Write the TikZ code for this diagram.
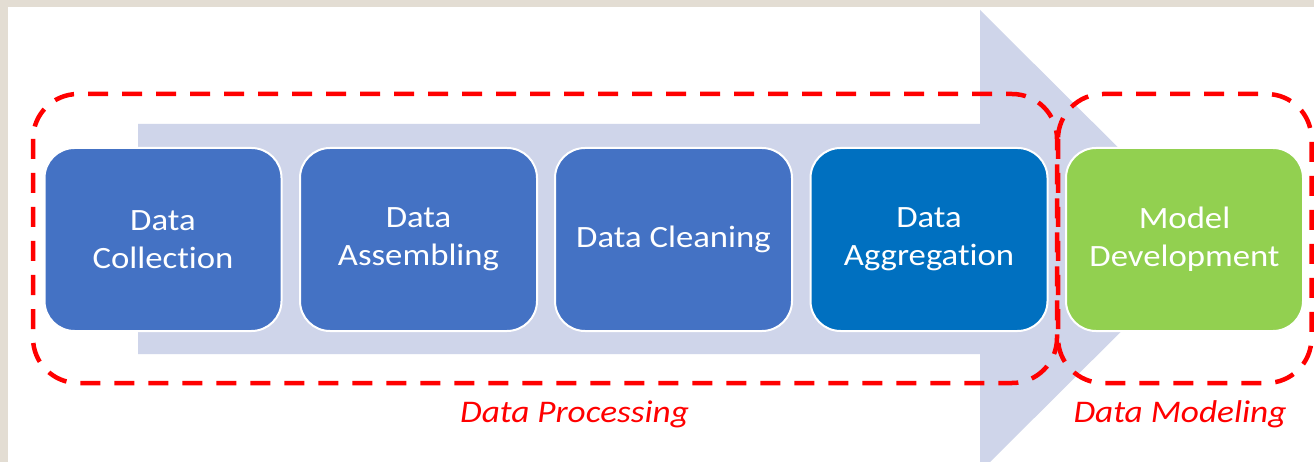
\documentclass[tikz,border=0pt]{standalone}
\usepackage{fontspec}
\setmainfont{Carlito}[FakeStretch=1.12, Ligatures={NoCommon}]
\definecolor{paper}{HTML}{E3DDD3}
\definecolor{flow}{HTML}{CFD5EA}
\definecolor{stepblue}{HTML}{4472C4}
\definecolor{stepdeep}{HTML}{0070C0}
\definecolor{stepgreen}{HTML}{92D050}
\definecolor{groupred}{HTML}{FF0000}
\tikzset{
  stagebox/.style={draw=white, line width=2pt, rounded corners=30pt,
    minimum width=237pt, minimum height=183pt, inner sep=0pt,
    align=center, text=white, font=\fontsize{31}{38}\selectfont},
  groupframe/.style={draw=groupred, line width=4.5pt, rounded corners=45pt,
    dash pattern=on 20pt off 14pt},
  grouplabel/.style={text=groupred, anchor=base,
    font=\fontsize{31.5}{38}\selectfont\itshape}
}
\begin{document}
\begin{tikzpicture}[x=1pt, y=-1pt]
  \useasboundingbox (0,0) rectangle (1314,462);
  \clip (0,0) rectangle (1314,462);
  % page edge and white sheet
  \fill[paper] (0,0) rectangle (1314,462);
  \fill[white] (8,7) rectangle (1314,462);
  % broad process arrow behind the stages
  \fill[flow] (138,124) -- (980,124) -- (980,10) -- (1212,241)
    -- (980,472) -- (980,354) -- (138,354) -- cycle;
  % stages
  \node[stagebox, fill=stepblue]  (collect)   at (163,239.5)   {Data\\Collection};
  \node[stagebox, fill=stepblue]  (assemble)  at (418.5,239.5) {Data\\Assembling};
  \node[stagebox, fill=stepblue]  (clean)     at (673.5,239.5) {Data Cleaning};
  \node[stagebox, fill=stepdeep]  (aggregate) at (929,239.5)   {Data\\Aggregation};
  \node[stagebox, fill=stepgreen] (model)     at (1184.5,239.5){Model\\Development};
  % dashed groupings
  \draw[groupframe] (33,94) rectangle (1057,383);
  \draw[groupframe] (1058,94) rectangle (1311.5,383);
  % group captions
  \node[grouplabel] (proc) at (574.5,422) {Data Processing};
  \node[grouplabel] (modl) at (1180,422) {Data Modeling};
\end{tikzpicture}
\end{document}
